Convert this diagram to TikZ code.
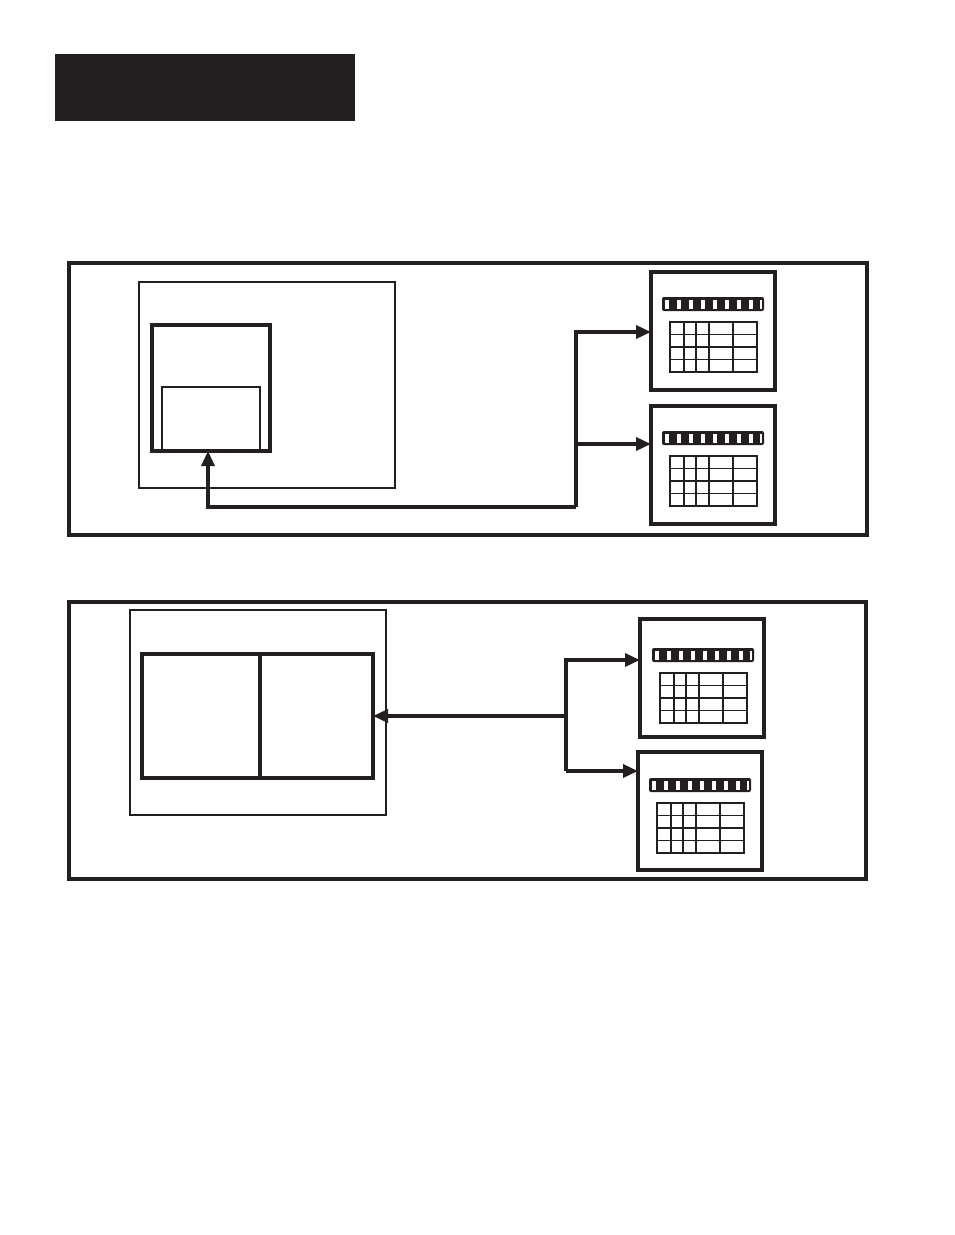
\documentclass[tikz,border=0pt]{standalone}
\usetikzlibrary{arrows.meta,calc}
\definecolor{ink}{HTML}{231F20}
\begin{document}
\begin{tikzpicture}[x=1pt,y=-1pt,
  box/.style={draw=ink,anchor=north west,inner sep=0pt,outer sep=0pt},
  panel/.style={box,line width=3.2pt},
  thinbox/.style={box,line width=1.4pt},
  thickbox/.style={box,line width=3.6pt},
  modbox/.style={box,line width=3.6pt,minimum width=124pt,minimum height=118pt},
  arr/.style={draw=ink,line width=3.4pt,-{Triangle[length=15pt,width=13pt]}},
  modin/.pic={
    \fill[ink,rounded corners=2pt] (11,25) rectangle (113,39);
    \foreach \k in {0,...,7} \fill[white] ({13.7+12*\k},27.5) rectangle ++(4.6,9);
    \fill[white] (109,27.5) rectangle ++(2,9);
    \draw[ink,line width=1.6pt] (19,50) rectangle (106,100);
    \foreach \c in {33,45,58,82} \draw[ink,line width=1.6pt] (\c,50) -- (\c,100);
    \foreach \r in {62.5,75,87.5} \draw[ink,line width=1.6pt] (19,\r) -- (106,\r);
  }]
\useasboundingbox (0,0) rectangle (954,1235);
\fill[white] (0,0) rectangle (954,1235);

% header bar
\node[box,draw=none,fill=ink,minimum width=300pt,minimum height=67pt] (hdr) at (55,54) {};

% ---------- panel 1 ----------
\node[panel,minimum width=798pt,minimum height=272pt] (p1) at (69,263) {};
\node[thinbox,minimum width=256pt,minimum height=206pt] (host1) at (139,282) {};
\node[thickbox,minimum width=118pt,minimum height=126pt] (cpu1) at (152,325) {};
\node[box,line width=1.2pt,minimum width=98pt,minimum height=64pt] (slot1) at (162,387) {};
\node[modbox] (mod1a) at (651,272) {};
\node[modbox] (mod1b) at (651,406) {};
\pic at (mod1a.north west) {modin};
\pic at (mod1b.north west) {modin};
\coordinate (j1) at (576,507);
\coordinate (t1a) at ($(mod1a.north west)+(0,60)$);
\coordinate (t1b) at ($(mod1b.north west)+(0,38)$);
\draw[arr] (j1) -| ($(cpu1.south)+(-3,0)$);
\draw[arr] (j1) |- (t1a);
\draw[arr] (j1 |- t1b) -- (t1b);

% ---------- panel 2 ----------
\node[panel,minimum width=797pt,minimum height=277pt] (p2) at (69,602) {};
\node[thinbox,minimum width=256pt,minimum height=205pt] (host2) at (130,610) {};
\node[thickbox,minimum width=231pt,minimum height=124pt] (cpu2) at (142,654) {};
\draw[ink,line width=3.6pt] ($(cpu2.north west)+(118,0)$) -- ($(cpu2.south west)+(118,0)$);
\node[modbox] (mod2a) at (640,619) {};
\node[modbox] (mod2b) at (638,752) {};
\pic at ($(mod2a.north west)+(1,4)$) {modin};
\pic at ($(mod2b.north west)+(0,1)$) {modin};
\coordinate (j2) at (566,716);
\coordinate (t2a) at ($(mod2a.north west)+(0,41)$);
\coordinate (t2b) at ($(mod2b.north west)+(0,19)$);
\draw[arr] (j2) -- (cpu2.east);
\draw[arr] (j2 |- t2b) |- (t2a);
\draw[arr] (j2 |- t2b) -- (t2b);
\end{tikzpicture}
\end{document}
